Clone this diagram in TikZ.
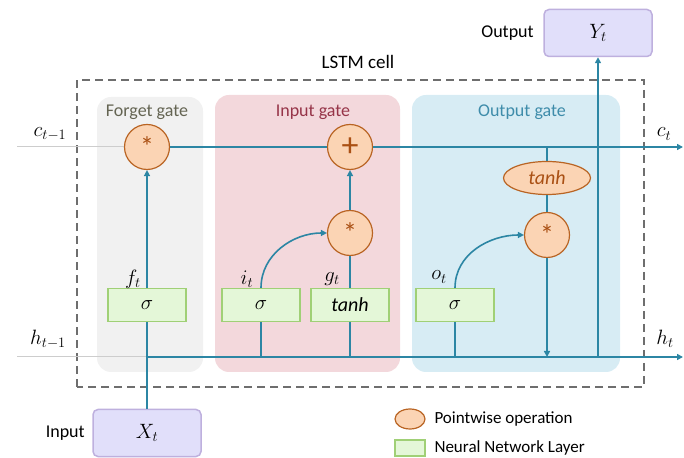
\documentclass[tikz,border=0pt]{standalone}
\usepackage{fontspec}
\setmainfont{Carlito}
\usetikzlibrary{arrows.meta,positioning,shapes.geometric,calc}

\definecolor{flowc}{RGB}{44,134,164}
\definecolor{inl}{RGB}{205,205,205}
\definecolor{opfill}{RGB}{251,212,180}
\definecolor{opline}{RGB}{185,100,35}
\definecolor{optext}{RGB}{170,80,20}
\definecolor{lyfill}{RGB}{228,247,216}
\definecolor{lyline}{RGB}{160,208,118}
\definecolor{iofill}{RGB}{225,223,250}
\definecolor{ioline}{RGB}{190,176,222}
\definecolor{pgray}{RGB}{241,241,241}
\definecolor{ppink}{RGB}{243,216,220}
\definecolor{pblue}{RGB}{215,236,244}
\definecolor{dashc}{RGB}{110,110,110}
\definecolor{tforget}{RGB}{100,100,82}
\definecolor{tinput}{RGB}{150,52,72}
\definecolor{toutput}{RGB}{62,140,170}

\begin{document}
\begin{tikzpicture}[x=1pt,y=1pt,font=\fontsize{18}{21}\selectfont,
  flow/.style={draw=flowc,line width=1.6pt},
  flowto/.style={flow,-{Triangle[length=6pt,width=6pt]}},
  inflow/.style={draw=inl,line width=1pt},
  pwop/.style={circle,draw=opline,fill=opfill,line width=1.2pt,minimum size=45pt,
    inner sep=0pt,text=optext,font=\fontsize{28}{28}\selectfont},
  layer/.style={rectangle,draw=lyline,fill=lyfill,line width=1.2pt,
    minimum width=78pt,minimum height=33pt,inner sep=0pt,font=\fontsize{20}{22}\selectfont},
  iobox/.style={rectangle,rounded corners=5pt,draw=ioline,fill=iofill,line width=1.5pt,
    minimum width=108pt,minimum height=47pt},
  mlab/.style={font=\fontsize{21}{24}\selectfont}]
  \useasboundingbox (0,0) rectangle (684,457);

  % gate panels and cell frame
  \fill[pgray,rounded corners=14pt] (97,85) rectangle (203,360);
  \fill[ppink,rounded corners=14pt] (215,85) rectangle (400,362);
  \fill[pblue,rounded corners=14pt] (412,85) rectangle (620,362);
  \draw[dashc,line width=1.3pt,dash pattern=on 8pt off 5pt] (77,70) rectangle (644,377);

  \node[font=\fontsize{19}{22}\selectfont] (cell) at (358,395) {LSTM cell};
  \node[text=tforget] (tf) at (147,345) {Forget gate};
  \node[text=tinput] (ti) at (313,345) {Input gate};
  \node[text=toutput] (to) at (522,345) {Output gate};

  % pointwise operations
  \node[pwop] (fmul) at (147,310) {*};
  \node[pwop,font=\fontsize{34}{34}\selectfont] (add) at (350,310) {+};
  \node[pwop] (imul) at (350,224) {*};
  \node[pwop] (omul) at (547,222) {*};
  \node[ellipse,draw=opline,fill=opfill,line width=1.2pt,minimum width=87pt,
    minimum height=33pt,inner sep=0pt,text=optext,
    font=\fontsize{20}{22}\selectfont] (otanh) at (547,279) {\textit{tanh}};

  % network layers
  \node[layer] (fsig) at (147,152) {$\sigma$};
  \node[layer] (isig) at (261,152) {$\sigma$};
  \node[layer] (gtanh) at (350,152) {\textit{tanh}};
  \node[layer] (osig) at (455,152) {$\sigma$};

  % input / output
  \node[iobox,mlab] (xin) at (147,24) {$X_t$};
  \node[iobox,mlab] (yout) at (598,424) {$Y_t$};
  \node[left=4pt of xin] (xlab) {Input};
  \node[left=6pt of yout] (ylab) {Output};

  \coordinate (cin) at (17,310);
  \coordinate (cout) at (683,310);
  \coordinate (hin) at (17,100);
  \coordinate (hout) at (683,100);
  \coordinate (hjoin) at (fsig |- hin);

  % connectors
  \draw[inflow] (cin) -- (fmul);
  \draw[inflow] (hin) -- (hjoin);
  \draw[flow] (fmul) -- (add);
  \draw[flowto] (add) -- (cout);
  \draw[flowto] (hjoin) -- (hout);
  \draw[flow] (xin) -- (fsig);
  \draw[flowto] (fsig) -- (fmul);
  \draw[flow] (isig.south) -- (isig.south |- hout);
  \draw[flowto] (isig.north) to[out=90,in=180] (imul.west);
  \draw[flow] (gtanh.south) -- (gtanh.south |- hout);
  \draw[flow] (gtanh) -- (imul);
  \draw[flowto] (imul) -- (add);
  \draw[flow] (osig.south) -- (osig.south |- hout);
  \draw[flowto] (osig.north) to[out=90,in=180] (omul.west);
  \draw[flow] (otanh.north) -- (otanh.north |- add);
  \draw[flow] (otanh) -- (omul);
  \draw[flowto] (omul) -- (omul |- hout);
  \draw[flowto] (yout |- hout) -- (yout);

  % state and gate labels
  \node[mlab] (cprev) at (50,323) {$c_{t-1}$};
  \node[mlab] (hprev) at (48,118) {$h_{t-1}$};
  \node[mlab] (cnext) at (664,323) {$c_t$};
  \node[mlab] (hnext) at (665,118) {$h_t$};
  \node[mlab] (ft) at (133,178) {$f_t$};
  \node[mlab] (it) at (247,178) {$i_t$};
  \node[mlab] (gt) at (332,178) {$g_t$};
  \node[mlab] (ot) at (439,180) {$o_t$};

  % legend
  \node[ellipse,draw=opline,fill=opfill,line width=1.2pt,minimum width=30pt,
    minimum height=20pt,inner sep=0pt] (legop) at (410,38) {};
  \node[anchor=west,font=\fontsize{17}{20}\selectfont] (legoptxt) at (431,38) {Pointwise operation};
  \node[rectangle,draw=lyline,fill=lyfill,line width=1.2pt,minimum width=30pt,
    minimum height=16pt,inner sep=0pt] (leglay) at (410,9) {};
  \node[anchor=west,font=\fontsize{17}{20}\selectfont] (leglaytxt) at (431,9) {Neural Network Layer};
\end{tikzpicture}
\end{document}
